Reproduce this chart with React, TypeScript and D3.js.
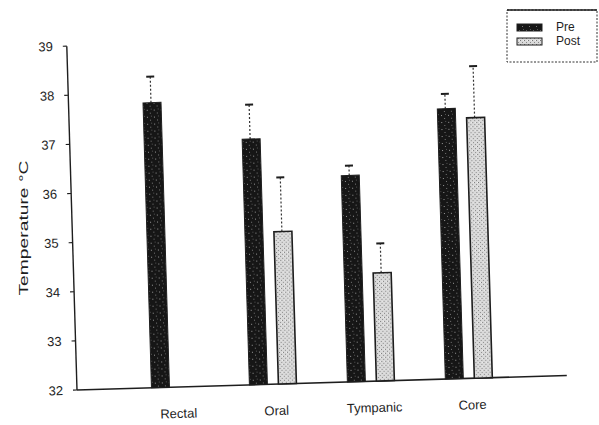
import React from "react";
import * as d3 from "d3";

const categories = ["Rectal", "Oral", "Tympanic", "Core"];
const seriesNames = ["Pre", "Post"];
const preValues = [37.8, 37.0, 36.2, 37.5];
const preErrors = [0.53, 0.7, 0.2, 0.3];
const postValues: (number | null)[] = [null, 35.1, 34.2, 37.3];
const postErrors: (number | null)[] = [null, 1.1, 0.6, 1.05];
const yTicks = [32, 33, 34, 35, 36, 37, 38, 39];
const yTitle = "Temperature °C";

const W = 599;
const H = 425;
const FONT = "'Liberation Sans', Arial, Helvetica, sans-serif";
const INK = "#1e1e1e";

export default function App() {
  const plotW = 490;
  const plotH = 344;
  const x0 = d3.scaleBand<string>().domain(categories).range([0, plotW]).paddingInner(0).paddingOuter(0.5);
  const x1 = d3
    .scaleBand<string>()
    .domain(seriesNames)
    .range([25.5, 72.5])
    .paddingInner(0.38)
    .paddingOuter(0);
  const y = d3.scaleLinear().domain([32, 39]).range([0, -plotH]);

  const rows = categories.map((c, i) => ({
    cat: c,
    bars: [
      { s: "Pre", v: preValues[i], e: preErrors[i] },
      { s: "Post", v: postValues[i], e: postErrors[i] },
    ].filter((b) => b.v !== null) as { s: string; v: number; e: number }[],
  }));

  const fillFor = (s: string) => (s === "Pre" ? "url(#prePat)" : "url(#postPat)");

  return (
    <svg
      width={W}
      height={H}
      viewBox={`0 0 ${W} ${H}`}
      style={{ position: "fixed", left: 0, top: 0, background: "#fff" }}
      fontFamily={FONT}
    >
      <defs>
        <pattern id="prePat" width="7" height="7" patternUnits="userSpaceOnUse">
          <rect width="7" height="7" fill="#161616" />
          <rect x="1" y="2" width="1" height="1" fill="#9a9a9a" />
          <rect x="4" y="5" width="1" height="1" fill="#7a7a7a" />
          <rect x="5" y="1" width="1" height="1" fill="#555" />
        </pattern>
        <pattern id="postPat" width="4" height="4" patternUnits="userSpaceOnUse">
          <rect width="4" height="4" fill="#dadada" />
          <rect x="0" y="0" width="1" height="1" fill="#777" />
          <rect x="2" y="2" width="1" height="1" fill="#888" />
          <rect x="3" y="0" width="1" height="1" fill="#f2f2f2" />
        </pattern>
      </defs>
      <rect width={W} height={H} fill="#fff" />

      {/* y-axis title */}
      <text
        transform="translate(28,228) rotate(-90)"
        textAnchor="middle"
        fontSize={12}
        fill={INK}
        textLength={135}
        lengthAdjust="spacingAndGlyphs"
      >
        {yTitle}
      </text>

      {/* legend */}
      <g>
        <rect x={507} y={10} width={90} height={52} fill="none" stroke="#333" strokeWidth={1} strokeDasharray="2,1.5" />
        <line x1={507} y1={10} x2={597} y2={10} stroke={INK} strokeWidth={1.3} />
        {seriesNames.map((s, i) => (
          <g key={s}>
            <rect
              x={517}
              y={24 + i * 14}
              width={25}
              height={7}
              fill={fillFor(s)}
              stroke={INK}
              strokeWidth={1}
            />
            <text x={556} y={31 + i * 14} fontSize={12} fill={INK}>
              {s}
            </text>
          </g>
        ))}
      </g>

      <g transform="translate(77,390) rotate(-1.7)">
        {/* y axis */}
        <line x1={0} y1={y(32)} x2={0} y2={y(39)} stroke={INK} strokeWidth={1.4} />
        {yTicks.map((t) => (
          <g key={t} transform={`translate(0,${y(t)})`}>
            <line x1={-4} x2={0} y1={0} y2={0} stroke={INK} strokeWidth={1.2} />
            <text x={-14} dy="0.35em" textAnchor="end" fontSize={13} fill={INK}>
              {t}
            </text>
          </g>
        ))}
        {/* x axis */}
        <line x1={0} y1={0} x2={plotW} y2={0} stroke={INK} strokeWidth={1.6} />

        {rows.map((r) => (
          <g key={r.cat} transform={`translate(${x0(r.cat)},0)`}>
            {r.bars.map((b) => {
              const bx = x1(b.s)!;
              const bw = x1.bandwidth();
              const cx = bx + bw / 2 - 1;
              return (
                <g key={b.s}>
                  <line
                    x1={cx}
                    x2={cx}
                    y1={y(b.v)}
                    y2={y(b.v + b.e)}
                    stroke="#333"
                    strokeWidth={1.2}
                    strokeDasharray="2,2"
                  />
                  <line x1={cx - 4} x2={cx + 4} y1={y(b.v + b.e)} y2={y(b.v + b.e)} stroke={INK} strokeWidth={2} />
                  <rect
                    x={bx}
                    y={y(b.v)}
                    width={bw}
                    height={y(32) - y(b.v)}
                    fill={fillFor(b.s)}
                    stroke={INK}
                    strokeWidth={b.s === "Post" ? 1.6 : 1}
                  />
                </g>
              );
            })}
            <text
              x={x0.bandwidth() / 2 + 3}
              y={31}
              textAnchor="middle"
              fontSize={13}
              fill={INK}
            >
              {r.cat}
            </text>
          </g>
        ))}
      </g>
    </svg>
  );
}
